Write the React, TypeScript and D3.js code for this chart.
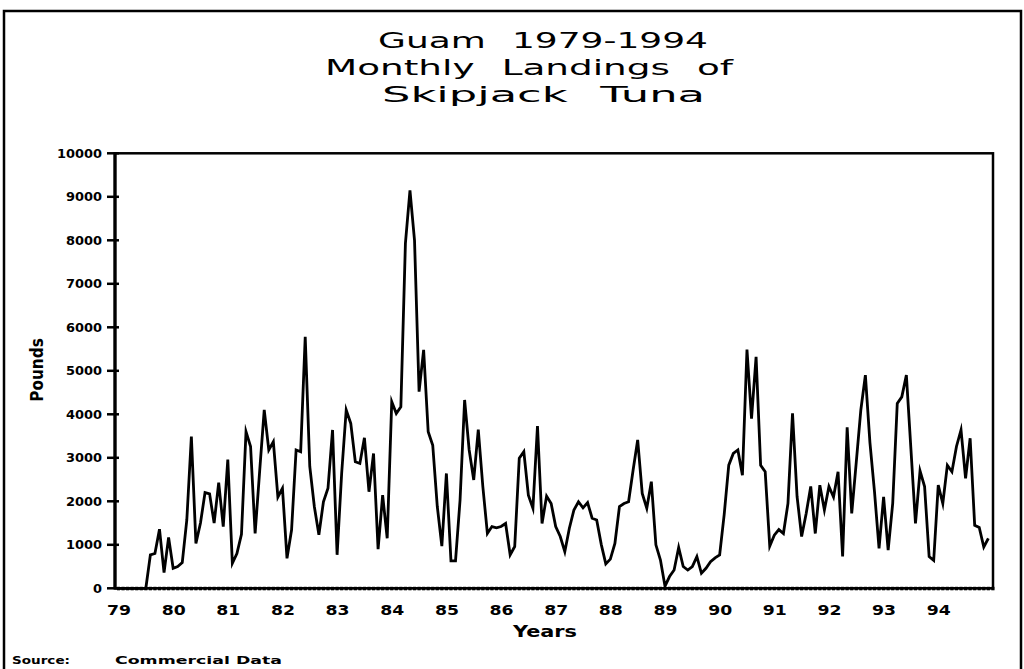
import React from "react";
import * as d3 from "d3";

// Year tick labels (two-digit years)
const yearLabels = ["79","80","81","82","83","84","85","86","87","88","89","90","91","92","93","94"];

// Monthly landings (pounds), Jan..Dec of each year
const y1979 = [0, 0, 0, 0, 0, 0, 0, 770, 800, 1360, 360, 1170];
const y1980 = [460, 500, 590, 1570, 3490, 1030, 1500, 2200, 2170, 1500, 2430, 1420];
const y1981 = [2960, 575, 800, 1240, 3600, 3260, 1260, 2700, 4100, 3180, 3370, 2100];
const y1982 = [2300, 690, 1340, 3180, 3140, 5780, 2800, 1880, 1230, 1990, 2300, 3640];
const y1983 = [770, 2640, 4100, 3790, 2910, 2870, 3460, 2220, 3100, 900, 2140, 1150];
const y1984 = [4290, 4020, 4170, 7930, 9150, 8000, 4520, 5480, 3600, 3290, 1880, 970];
const y1985 = [2640, 630, 630, 2030, 4330, 3180, 2490, 3650, 2340, 1260, 1420, 1390];
const y1986 = [1420, 1490, 770, 960, 2990, 3140, 2140, 1840, 3730, 1490, 2120, 1950];
const y1987 = [1420, 1190, 840, 1380, 1800, 1990, 1850, 1970, 1610, 1570, 1010, 560];
const y1988 = [670, 1030, 1880, 1950, 1990, 2720, 3410, 2180, 1840, 2450, 1000, 650];
const y1989 = [50, 270, 420, 940, 500, 420, 500, 730, 345, 460, 610, 700];
const y1990 = [765, 1700, 2830, 3100, 3180, 2600, 5490, 3900, 5320, 2830, 2680, 970];
const y1991 = [1220, 1350, 1260, 1950, 4020, 2110, 1190, 1720, 2340, 1260, 2370, 1800];
const y1992 = [2340, 2100, 2680, 730, 3700, 1720, 2900, 4100, 4900, 3350, 2220, 920];
const y1993 = [2100, 880, 1950, 4250, 4400, 4900, 3200, 1490, 2700, 2340, 730, 640];
const y1994 = [2370, 1950, 2830, 2680, 3260, 3640, 2530, 3450, 1450, 1400, 950, 1150];

const yTickValues = [0, 1000, 2000, 3000, 4000, 5000, 6000, 7000, 8000, 9000, 10000];

const titleLines = ["Guam 1979-1994", "Monthly Landings of", "Skipjack Tuna"];

const landings: number[] = [
  ...y1979, ...y1980, ...y1981, ...y1982, ...y1983, ...y1984, ...y1985, ...y1986,
  ...y1987, ...y1988, ...y1989, ...y1990, ...y1991, ...y1992, ...y1993, ...y1994,
];

export default function App() {
  const W = 1024;
  const H = 669;
  const plotLeft = 115;
  const plotRight = 993;
  const plotTop = 153.3;
  const plotBottom = 588.3;

  const nMonths = yearLabels.length * 12;
  const x = d3.scaleLinear().domain([0, nMonths]).range([118.5, 992.9]);
  const y = d3.scaleLinear().domain([0, 10000]).range([plotBottom, plotTop]);

  const line = d3
    .line<number>()
    .x((_, i) => x(i))
    .y((d) => y(d));

  const monthTicks = d3.range(0, nMonths + 1);

  const font = "'DejaVu Sans', Verdana, sans-serif";

  const titleGeom = [
    { x: 378, y: 48, len: 330 },
    { x: 325, y: 75, len: 408 },
    { x: 382, y: 102, len: 323 },
  ];

  return (
    <svg
      width={W}
      height={H}
      viewBox={`0 0 ${W} ${H}`}
      style={{ position: "absolute", left: 0, top: 0, background: "#fff" }}
    >
      <rect x={0} y={0} width={W} height={H} fill="#fff" />
      {/* outer frame */}
      <path d={`M4,${H + 5} V11 H1021 V${H + 5}`} fill="none" stroke="#000" strokeWidth={2.5} />

      {/* title */}
      {titleLines.map((t, i) => (
        <text
          key={t}
          x={titleGeom[i].x}
          y={titleGeom[i].y}
          textLength={titleGeom[i].len}
          lengthAdjust="spacingAndGlyphs"
          fontFamily={font}
          fontSize={22}
          wordSpacing={9}
          fill="#000"
        >
          {t}
        </text>
      ))}

      {/* plot frame */}
      <rect
        x={plotLeft}
        y={plotTop}
        width={plotRight - plotLeft}
        height={plotBottom - plotTop}
        fill="none"
        stroke="#000"
        strokeWidth={2.5}
      />
      <line x1={plotLeft} x2={plotLeft} y1={plotTop - 1} y2={plotBottom + 1} stroke="#000" strokeWidth={3.2} />

      {/* x axis monthly ticks */}
      {monthTicks.map((m) => (
        <line
          key={"mt" + m}
          x1={x(m)}
          x2={x(m)}
          y1={plotBottom - 1.5}
          y2={plotBottom + 2}
          stroke="#000"
          strokeWidth={3.2}
        />
      ))}
      <line x1={plotLeft} x2={plotRight} y1={plotBottom} y2={plotBottom} stroke="#000" strokeWidth={2} />

      {/* x tick labels */}
      {yearLabels.map((lab, k) => (
        <text
          key={"xl" + lab}
          x={x(k * 12) + 0.5}
          y={615}
          textAnchor="middle"
          textLength={24}
          lengthAdjust="spacingAndGlyphs"
          fontFamily={font}
          fontWeight="bold"
          fontSize={14}
          fill="#000"
        >
          {lab}
        </text>
      ))}

      {/* y ticks + labels */}
      {yTickValues.map((v) => (
        <g key={"yt" + v}>
          <line x1={107} x2={119} y1={y(v)} y2={y(v)} stroke="#000" strokeWidth={2.5} />
          <text
            x={102}
            y={y(v)}
            dy="0.36em"
            textAnchor="end"
            textLength={String(v).length * 9}
            lengthAdjust="spacingAndGlyphs"
            fontFamily={font}
            fontWeight="bold"
            fontSize={12}
            fill="#000"
          >
            {v}
          </text>
        </g>
      ))}

      {/* data line */}
      <path
        d={line(landings) || ""}
        fill="none"
        stroke="#000"
        strokeWidth={2.8}
        strokeLinejoin="miter"
        strokeMiterlimit={6}
      />

      {/* axis titles */}
      <text
        x={513}
        y={637}
        textLength={64}
        lengthAdjust="spacingAndGlyphs"
        fontFamily={font}
        fontSize={16}
        fontWeight="bold"
        fill="#000"
      >
        Years
      </text>
      <text
        transform="translate(43,370) rotate(-90)"
        textAnchor="middle"
        fontFamily="'Liberation Sans Narrow', 'DejaVu Sans Condensed', 'Arial Narrow', sans-serif"
        fontWeight="bold"
        fontSize={17}
        fill="#000"
      >
        Pounds
      </text>

      {/* source note */}
      <text x={12} y={664} textLength={58} lengthAdjust="spacingAndGlyphs" fontFamily={font} fontWeight="bold" fontSize={11} fill="#000">
        Source:
      </text>
      <text x={115} y={664} textLength={167} lengthAdjust="spacingAndGlyphs" fontFamily={font} fontWeight="bold" fontSize={11} fill="#000">
        Commercial Data
      </text>
    </svg>
  );
}
